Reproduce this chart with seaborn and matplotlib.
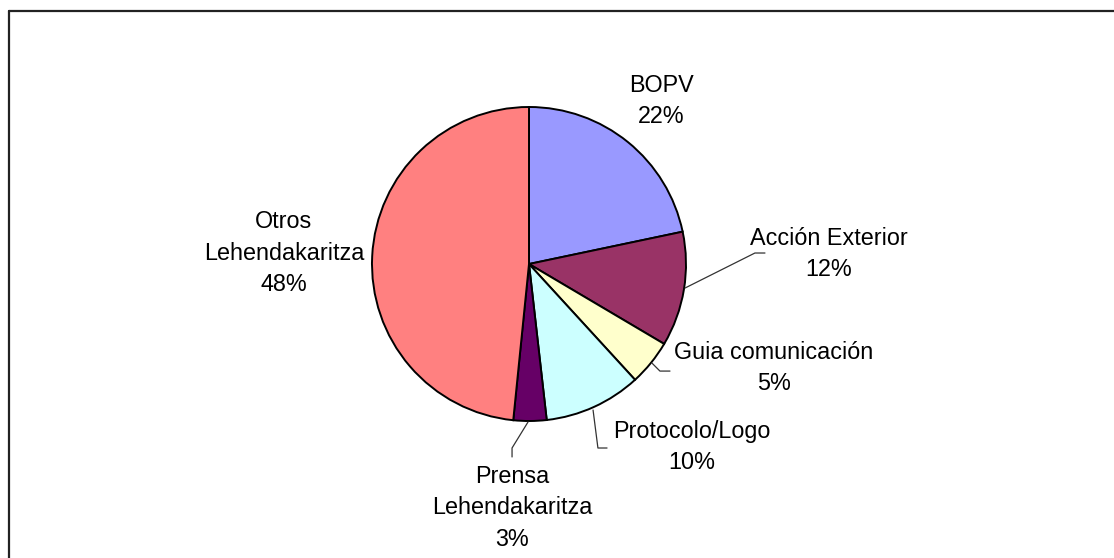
import numpy as np
import matplotlib
matplotlib.use("Agg")
import matplotlib.pyplot as plt
import seaborn as sns
from matplotlib.lines import Line2D

# data (share of total, %)
categories = ["BOPV", "Acción Exterior", "Guia comunicación", "Protocolo/Logo",
              "Prensa\nLehendakaritza", "Otros\nLehendakaritza"]
values = [21.7, 11.8, 4.7, 10.0, 3.4, 48.4]
colors = ["#9999FF", "#993366", "#FFFFCC", "#CCFFFF", "#660066", "#FF8080"]

sns.set_theme(style="white")
plt.rcParams["font.family"] = ["Liberation Sans", "DejaVu Sans"]

W, H = 1114, 558
cx, cy, r = 529, 264, 157   # pie centre / radius in pixels

fig = plt.figure(figsize=(W / 100, H / 100), dpi=100)
ax = fig.add_axes([0, 0, 1, 1])

ax.pie(values, colors=colors, startangle=90, counterclock=False,
       wedgeprops=dict(edgecolor="black", linewidth=1.4))
ax.set_xlim(-cx / r, (W - cx) / r)
ax.set_ylim(-(H - cy) / r, cy / r)
ax.set_aspect("equal")
ax.axis("off")

# label placement (pie radius units) and leader lines
label_pos = [(0.841, 1.038), (1.911, 0.064), (1.561, -0.662),
             (1.038, -1.166), (-0.108, -1.554), (-1.561, 0.070)]
leaders = [None,
           [(0.994, -0.153), (1.439, 0.070), (1.503, 0.070)],
           [(0.783, -0.631), (0.834, -0.682), (0.898, -0.682)],
           [(0.408, -0.930), (0.439, -1.172), (0.497, -1.172)],
           [(-0.006, -1.006), (-0.108, -1.172), (-0.108, -1.229)],
           None]

total = sum(values)
for name, v, (tx, ty), ld in zip(categories, values, label_pos, leaders):
    ax.text(tx, ty, f"{name}\n{v / total * 100:.0f}%", ha="center", va="center",
            fontsize=16.8, linespacing=1.45, color="black")
    if ld is not None:
        xs, ys = zip(*ld)
        ax.plot(xs, ys, color="#333333", linewidth=0.9)

# chart area frame (cropped on the right and bottom)
x0 = 8.5 / W
y0 = 1 - 10.5 / H
fig.add_artist(Line2D([x0, 1.01], [y0, y0], transform=fig.transFigure,
                      color="#222222", linewidth=1.6))
fig.add_artist(Line2D([x0, x0], [y0, -0.01], transform=fig.transFigure,
                      color="#222222", linewidth=1.6))

fig.savefig("out.png", dpi=100, facecolor="white")
